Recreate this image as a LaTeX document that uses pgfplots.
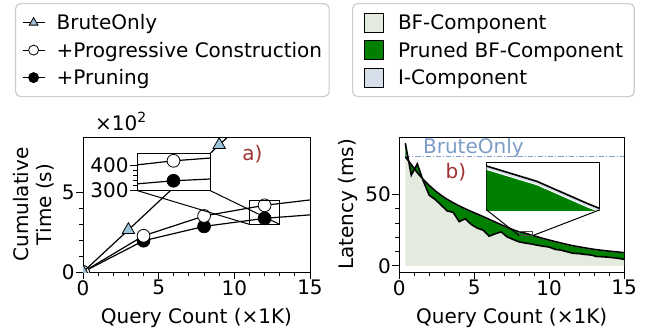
\documentclass[border=0pt]{standalone}
\usepackage{fontspec}
\setmainfont{DejaVu Sans}
\usepackage{pgfplots}
\pgfplotsset{compat=1.18}
\usepgfplotslibrary{fillbetween}
\usepackage{pgfplotstable}

\definecolor{bfcol}{HTML}{E3EBDF}
\definecolor{icol}{HTML}{D5DFE9}
\definecolor{prcol}{HTML}{008000}
\definecolor{brcol}{HTML}{7B9DC7}
\definecolor{tricol}{HTML}{9DC3DB}
\definecolor{abcol}{HTML}{A03232}

\pgfplotstableread{
x bf tot ilo
0.4 86.0 76.5 76.3
0.8 63.5 71.0 70.8
1.2 71.5 65.3 65.1
1.6 59.5 60.5 60.3
2.0 49.5 56.3 56.1
2.4 46.5 52.6 52.4
2.8 42.5 49.4 49.2
3.2 38.5 46.6 46.4
3.6 37.5 44.2 44.0
4.0 31.0 42.0 41.8
4.4 33.0 40.0 39.8
4.8 29.0 38.1 37.9
5.2 26.5 36.3 36.1
5.6 25.0 34.5 34.3
6.0 20.8 32.6 32.4
6.4 22.5 30.7 30.5
6.8 23.8 28.8 28.6
7.2 20.3 27.0 26.8
7.6 18.5 25.3 25.1
8.0 16.8 23.8 23.6
8.4 16.0 22.9 22.7
8.8 15.4 21.6 21.4
9.2 14.5 20.4 20.2
9.6 13.8 19.2 19.0
10.0 13.2 18.1 17.9
10.4 11.6 17.0 16.8
10.8 11.0 16.0 15.8
11.2 9.9 15.0 14.8
11.6 8.8 14.1 13.9
12.0 8.6 13.3 13.1
12.4 8.0 12.6 12.4
12.8 7.6 11.9 11.7
13.2 6.5 11.3 11.1
13.6 6.4 10.8 10.6
14.0 6.0 10.3 10.1
14.4 5.6 9.9 9.7
14.8 5.0 9.5 9.3
15.0 4.5 9.3 9.1
}\rdata

\pgfplotstableread{
x y
0 0
3 265
9 800
12 1070
}\brute
\pgfplotstableread{
x y
0 0
4 228
8 353
12 420
16 465
}\prog
\pgfplotstableread{
x y
0 0
4 197
8 287
12 338
16 367
}\prun

\newcommand{\f}{\fontsize{10}{11.5}\selectfont}

\pgfplotsset{
  base/.style={scale only axis, axis line style={black, line width=0.5pt},
    tick align=outside, tick pos=left, major tick length=3.5pt, minor tick length=2pt,
    every tick/.style={black, line width=0.5pt},
    /pgf/number format/assume math mode=true,
    tick label style={font=\f, inner sep=0.5pt}, label style={font=\f},
    clip marker paths=true},
  brst/.style={black, line width=0.6pt, mark=triangle*, mark size=3.6pt, mark options={fill=tricol, draw=black, line width=0.4pt}},
  prst/.style={black, line width=0.6pt, mark=*, mark size=3.2pt, mark options={fill=white, draw=black, line width=0.4pt}},
  pust/.style={black, line width=0.6pt, mark=*, mark size=3.2pt, mark options={fill=black, draw=black, line width=0.4pt}},
  sqbf/.style={legend image code/.code={\draw[fill=bfcol,draw=black,line width=0.4pt,sharp corners] (0pt,-4.75pt) rectangle (9.5pt,4.75pt); \path[draw=none,fill=none] (17pt,0pt);}},
  sqpr/.style={legend image code/.code={\draw[fill=prcol,draw=black,line width=0.4pt,sharp corners] (0pt,-4.75pt) rectangle (9.5pt,4.75pt); \path[draw=none,fill=none] (17pt,0pt);}},
  sqi/.style={legend image code/.code={\draw[fill=icol,draw=black,line width=0.4pt,sharp corners] (0pt,-4.75pt) rectangle (9.5pt,4.75pt); \path[draw=none,fill=none] (17pt,0pt);}},
  lgd/.style={legend cell align=left, legend style={anchor=north west, draw=black!20, line width=0.6pt, rounded corners=2.5pt,
     inner xsep=3.5pt, inner ysep=4.5pt, row sep=3.75pt, font=\f,
     nodes={inner sep=0pt, text height=8.5pt, text depth=1.5pt}}},
}

\begin{document}
\begin{tikzpicture}[font=\f]
% ---------------- left panel ----------------
\begin{axis}[base, lgd, name=a1, at={(0,0)}, anchor=south west,
  width=113.5pt, height=67.5pt,
  xmin=0, xmax=15, ymin=0, ymax=850,
  xtick={0,5,10,15}, minor x tick num=4,
  ytick={0,500}, yticklabels={0,5}, minor y tick num=4,
  xlabel={Query Count (×1K)}, ylabel={Cumulative\\Time (s)},
  every axis y label/.style={at={(axis description cs:-0.216,0.5)}, rotate=90, anchor=center, align=center},
  every axis x label/.style={at={(axis description cs:0.5,-0.378)}, anchor=base},
  legend style={at={(-0.2996,1.9926)}},
  legend image code/.code={\begin{pgfinterruptboundingbox}\draw[#1, mark size=2.5pt, mark repeat=2, mark phase=2, sharp corners] plot coordinates {(0pt,0pt) (5.5pt,0pt) (11pt,0pt)};\end{pgfinterruptboundingbox}\path[draw=none,fill=none] (0pt,-3pt) (17pt,3pt);},
]
\addlegendimage{brst}\addlegendentry{BruteOnly}
\addlegendimage{prst}\addlegendentry{+Progressive Construction}
\addlegendimage{pust}\addlegendentry{+Pruning}
\addplot[pust, forget plot] table[x=x,y=y]{\prun};
\addplot[prst, forget plot] table[x=x,y=y]{\prog};
\addplot[brst, forget plot] table[x=x,y=y]{\brute};
\draw[black, line width=0.5pt] (axis cs:11,300) rectangle (axis cs:13,450);
\coordinate (r1a) at (axis cs:11,300);
\coordinate (r1b) at (axis cs:13,300);
\coordinate (alab) at (axis cs:11.2,744);
\end{axis}
\node[abcol] at (alab) {a)};
\node[anchor=base west] at ([xshift=2.5pt,yshift=3.5pt]a1.north west) {×10\textsuperscript{2}};

\begin{axis}[base, name=i1, at={(27pt,40.75pt)}, anchor=south west,
  width=36.5pt, height=18.75pt,
  xmin=11, xmax=13, ymin=298, ymax=452,
  xtick=\empty, ytick={300,400}, minor y tick num=4,
  axis background/.style={fill=white}]
\addplot[pust] table[x=x,y=y]{\prun};
\addplot[prst] table[x=x,y=y]{\prog};
\addplot[brst] table[x=x,y=y]{\brute};
\end{axis}
\draw[black, line width=0.5pt] (i1.south west) -- (r1a);
\draw[black, line width=0.5pt] (i1.south east) -- (r1b);

% ---------------- right panel ----------------
\begin{axis}[base, lgd, name=a2, at={(158.15pt,0)}, anchor=south west,
  width=112.35pt, height=67.5pt,
  xmin=0, xmax=15, ymin=-4.3, ymax=90.3,
  xtick={0,5,10,15}, minor x tick num=4,
  ytick={0,50}, minor y tick num=4,
  xlabel={Query Count (×1K)}, ylabel={Latency (ms)},
  every axis y label/.style={at={(axis description cs:-0.2305,0.5)}, rotate=90, anchor=center},
  every axis x label/.style={at={(axis description cs:0.5,-0.378)}, anchor=base},
  legend style={at={(-0.2105,1.9926)}, inner xsep=5.5pt},
]
\addlegendimage{sqbf}\addlegendentry{BF-Component}
\addlegendimage{sqpr}\addlegendentry{Pruned BF-Component}
\addlegendimage{sqi}\addlegendentry{I-Component}
\addplot[draw=none, name path=zero, forget plot] coordinates {(0.4,0) (15,0)};
\addplot[draw=none, name path=bf, forget plot] table[x=x,y=bf]{\rdata};
\addplot[draw=none, name path=ilo, forget plot] table[x=x,y=ilo]{\rdata};
\addplot[draw=none, name path=tot, forget plot] table[x=x,y=tot]{\rdata};
\addplot[fill=bfcol, draw=none, forget plot] fill between[of=zero and bf];
\addplot[fill=prcol, draw=none, forget plot] fill between[of=bf and ilo];
\addplot[fill=icol, draw=none, forget plot] fill between[of=ilo and tot];
\addplot[brcol, line width=0.6pt, dash pattern=on 2.6pt off 1pt on 0.5pt off 1pt, forget plot] coordinates {(0.4,76.4) (15,76.4)};
\addplot[black, line width=0.8pt, forget plot] table[x=x,y=bf]{\rdata};
\addplot[white, line width=0.4pt, forget plot] table[x=x,y=ilo]{\rdata};
\addplot[black, line width=0.8pt, forget plot] table[x=x,y=tot]{\rdata};
\draw[black!70, line width=0.5pt] (axis cs:8.0,21.2) rectangle (axis cs:8.9,24.0);
\coordinate (r2a) at (axis cs:8.0,21.2);
\coordinate (r2b) at (axis cs:8.9,21.2);
\coordinate (blab) at (axis cs:3.78,65.7);
\coordinate (btxt) at (axis cs:1.56,78.6);
\end{axis}
\node[abcol] at (blab) {b)};
\node[brcol, anchor=base west, inner sep=0pt] at (btxt) {BruteOnly};

\begin{axis}[base, name=i2, at={(201.85pt,31pt)}, anchor=south west,
  width=56.3pt, height=23.65pt,
  xmin=8, xmax=8.9, ymin=21.2, ymax=24.0,
  xtick=\empty, ytick=\empty,
  axis background/.style={fill=white}]
\addplot[draw=none, name path=bf2] table[x=x,y=bf]{\rdata};
\addplot[draw=none, name path=ilo2] table[x=x,y=ilo]{\rdata};
\addplot[draw=none, name path=tot2] table[x=x,y=tot]{\rdata};
\addplot[fill=prcol, draw=none] fill between[of=bf2 and ilo2];
\addplot[fill=icol, draw=none] fill between[of=ilo2 and tot2];
\addplot[white, line width=0.5pt] table[x=x,y=ilo]{\rdata};
\addplot[black, line width=0.8pt] table[x=x,y=tot]{\rdata};
\end{axis}
\draw[black, line width=0.5pt] (i2.south west) -- (r2a);
\draw[black, line width=0.5pt] (i2.south east) -- (r2b);

\pgfresetboundingbox
\path[use as bounding box] (-41.5pt,-28.5pt) rectangle (284.5pt,136pt);
\end{tikzpicture}
\end{document}
